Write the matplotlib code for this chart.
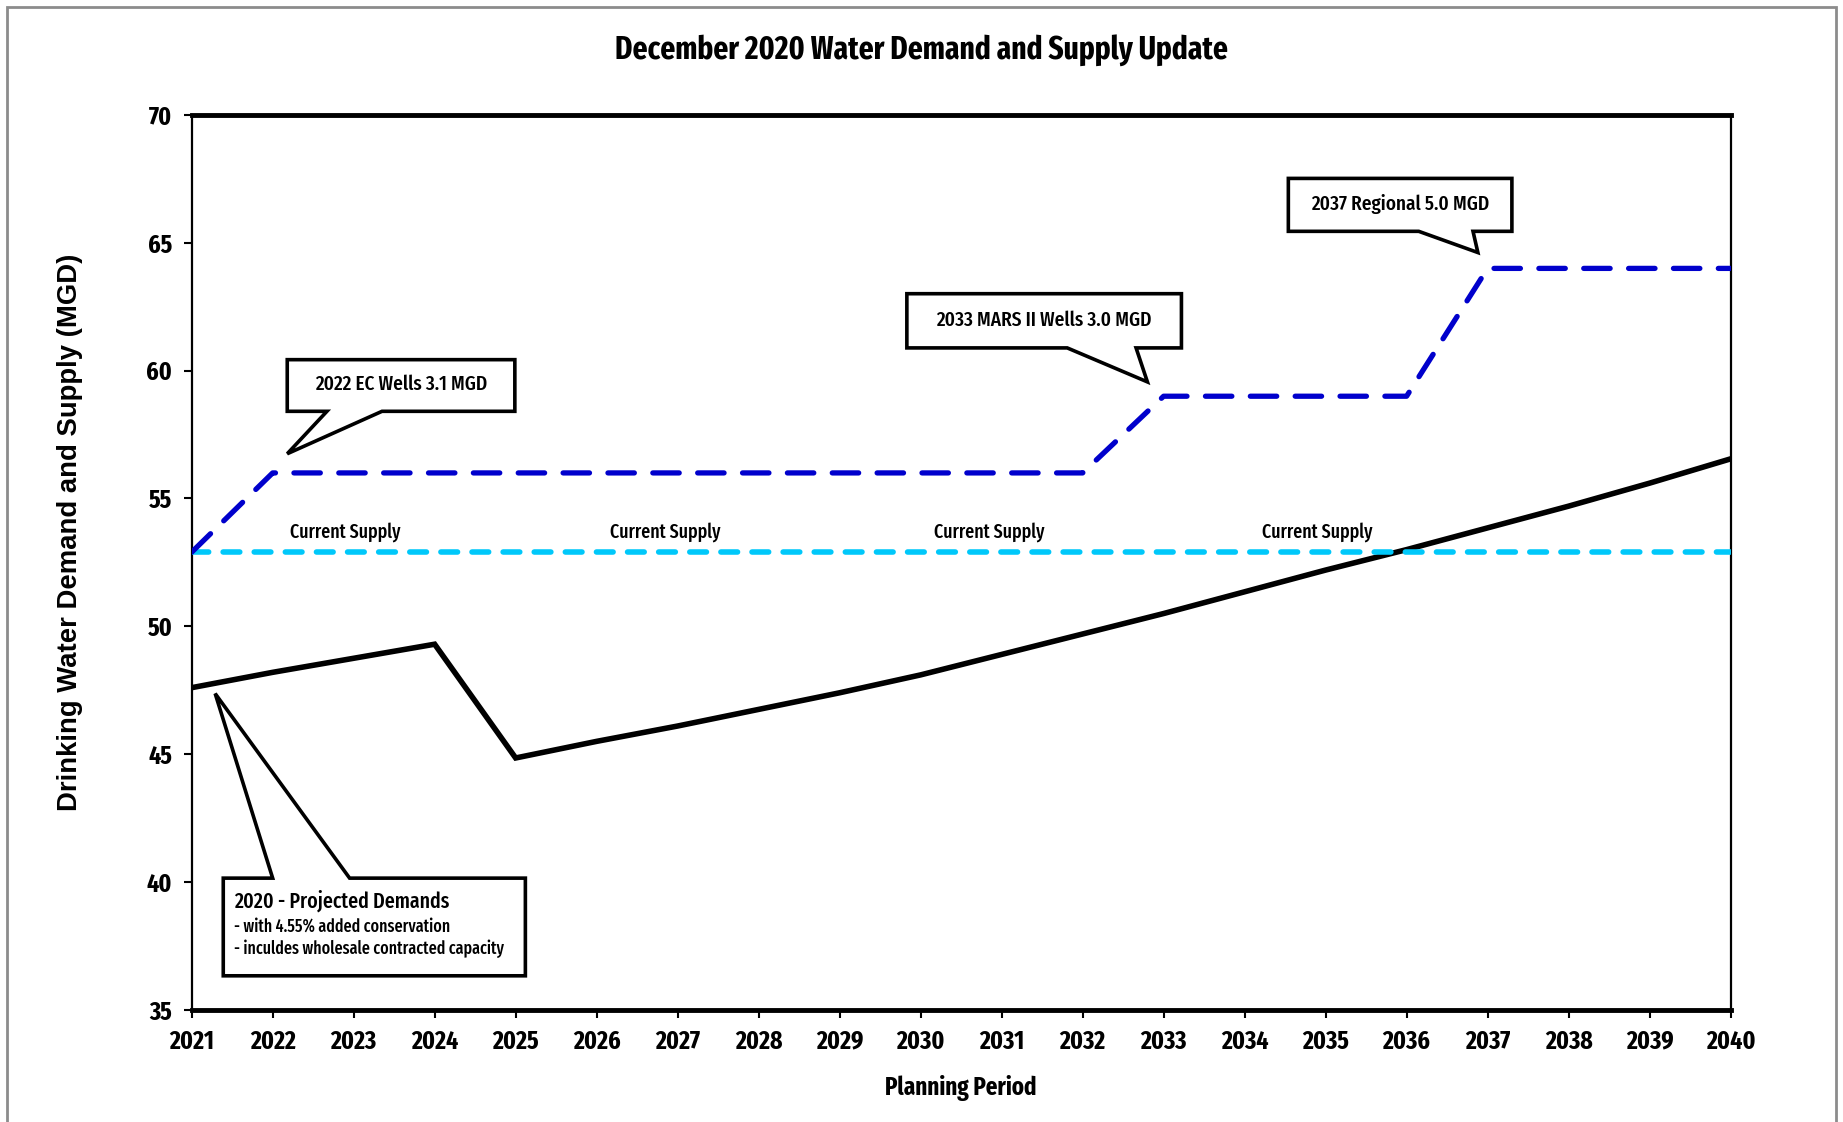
import matplotlib
matplotlib.use("Agg")
import matplotlib.pyplot as plt
from matplotlib.patches import Polygon, Rectangle

# condensed face close to the squeezed Calibri in the original
plt.rcParams['font.family'] = ['Fira Sans Extra Condensed', 'Liberation Sans Narrow', 'DejaVu Sans']

# data
years = list(range(2021, 2041))
demand = [47.6, 48.2, 48.75, 49.3, 44.85, 45.5, 46.1, 46.75, 47.4, 48.1,
          48.9, 49.7, 50.5, 51.35, 52.2, 53.0, 53.85, 54.7, 55.6, 56.55]
current_supply = [52.9] * len(years)
future_supply = [52.9, 56.0, 56.0, 56.0, 56.0, 56.0, 56.0, 56.0, 56.0, 56.0,
                 56.0, 56.0, 59.0, 59.0, 59.0, 59.0, 64.0, 64.0, 64.0, 64.0]
supply_label_x = [2022.9, 2026.85, 2030.85, 2034.9]
supply_label_y = 53.67


def callout(ax, box, base, tip, top=False):
    # box = (x0, x1, y0, y1); base = pointer foot along bottom (or top) edge
    x0, x1, y0, y1 = box
    if not top:
        pts = [(x0, y1), (x1, y1), (x1, y0), (base[1], y0), tip, (base[0], y0), (x0, y0)]
    else:
        pts = [(x0, y0), (x1, y0), (x1, y1), (base[1], y1), tip, (base[0], y1), (x0, y1)]
    ax.add_patch(Polygon(pts, closed=True, facecolor='white', edgecolor='black',
                         linewidth=2.6, joinstyle='miter', zorder=5, clip_on=False))


fig = plt.figure(figsize=(18.43, 11.22), dpi=100)
ax = fig.add_axes([0.104, 0.100, 0.835, 0.7975])

# grey frame around the whole picture
fig.patches.append(Rectangle((0.0038, -0.01), 0.9925, 1.0035, transform=fig.transFigure,
                             fill=False, edgecolor='#8c8c8c', linewidth=2.0))

ax.plot(years, demand, color='black', linewidth=4.0, solid_joinstyle='miter', zorder=3)
ax.plot(years, current_supply, color='#00c8fa', linewidth=4.0, dashes=(3.0, 2.6),
        dash_capstyle='round', zorder=3)
ax.plot(years, future_supply, color='#0000cc', linewidth=3.8, dashes=(5.0, 3.5),
        dash_capstyle='round', zorder=4)

for x in supply_label_x:
    ax.text(x, supply_label_y, 'Current Supply', ha='center', va='center',
            fontsize=14, fontweight='medium')

callout(ax, (2022.18, 2024.99, 58.41, 60.43), (2022.67, 2023.35), (2022.18, 56.75))
ax.text(2023.585, 59.45, '2022 EC Wells 3.1 MGD', ha='center', va='center',
        fontsize=15, fontweight='medium', zorder=6)

callout(ax, (2029.83, 2033.22, 60.89, 63.01), (2031.81, 2032.66), (2032.80, 59.56))
ax.text(2031.525, 61.98, '2033 MARS II Wells 3.0 MGD', ha='center', va='center',
        fontsize=15, fontweight='medium', zorder=6)

callout(ax, (2034.54, 2037.30, 65.45, 67.52), (2036.15, 2036.82), (2036.88, 64.62))
ax.text(2035.92, 66.53, '2037 Regional 5.0 MGD', ha='center', va='center',
        fontsize=15, fontweight='medium', zorder=6)

callout(ax, (2021.39, 2025.12, 36.33, 40.15), (2022.0, 2022.95), (2021.29, 47.37), top=True)
ax.text(2021.52, 39.28, '2020 - Projected Demands', ha='left', va='center',
        fontsize=15.5, fontweight='medium', zorder=6)
ax.text(2021.52, 38.27, '- with 4.55% added conservation', ha='left', va='center',
        fontsize=12.5, fontweight='medium', zorder=6)
ax.text(2021.52, 37.39, '- inculdes wholesale contracted capacity', ha='left', va='center',
        fontsize=12.5, fontweight='medium', zorder=6)

ax.set_xlim(2021, 2040)
ax.set_ylim(35, 70)
ax.set_xticks(years)
ax.set_yticks(range(35, 71, 5))
ax.tick_params(axis='both', direction='out', length=6, width=1.5, labelsize=18.5, pad=8)
for lbl in ax.get_xticklabels() + ax.get_yticklabels():
    lbl.set_fontweight('bold')

ax.spines['top'].set_linewidth(3.5)
ax.spines['bottom'].set_linewidth(3.5)
ax.spines['left'].set_linewidth(1.6)
ax.spines['right'].set_linewidth(1.6)

ax.set_xlabel('Planning Period', fontsize=18, fontweight='bold', labelpad=15)
fig.text(0.038, 0.526, 'Drinking Water Demand and Supply (MGD)', rotation=90, ha='center', va='center',
         fontsize=19.8, fontweight='bold', family=['Liberation Sans', 'DejaVu Sans'])
fig.text(0.5, 0.955, 'December 2020 Water Demand and Supply Update', ha='center', va='center',
         fontsize=23, fontweight='bold')

fig.savefig('out.png', dpi=100)
